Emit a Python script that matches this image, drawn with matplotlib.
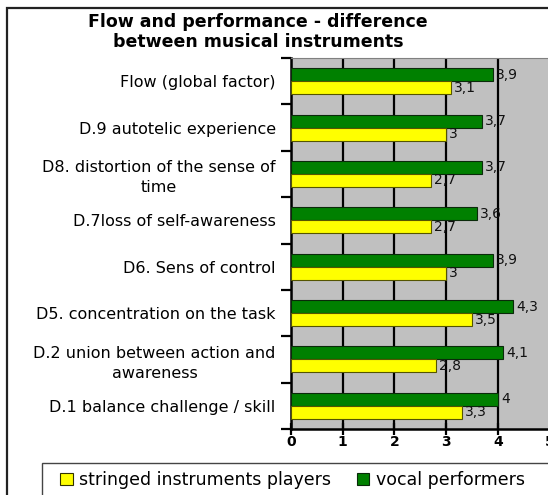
import matplotlib
matplotlib.use("Agg")
import matplotlib.pyplot as plt
from matplotlib.patches import Patch, Rectangle
import numpy as np

plt.rcParams['font.family'] = ['DejaVu Sans']

categories = [
    "Flow (global factor)",
    "D.9 autotelic experience",
    "D8. distortion of the sense of\ntime",
    "D.7loss of self-awareness",
    "D6. Sens of control",
    "D5. concentration on the task",
    "D.2 union between action and\nawareness",
    "D.1 balance challenge / skill",
]
vocal = [3.9, 3.7, 3.7, 3.6, 3.9, 4.3, 4.1, 4.0]
stringed = [3.1, 3.0, 2.7, 2.7, 3.0, 3.5, 2.8, 3.3]
series_names = ["stringed instruments players", "vocal performers"]
x_ticks = [0, 1, 2, 3, 4, 5]
title = "Flow and performance - difference\nbetween musical instruments"

W, H = 548, 495
fig = plt.figure(figsize=(W / 100, H / 100), dpi=100)

# outer frame
fig.patches.append(Rectangle((7 / W, -0.1), 1.2, 1 - 8 / H + 0.1, transform=fig.transFigure,
                             fill=False, edgecolor='#222222', linewidth=1.6, zorder=0))
# legend frame
fig.patches.append(Rectangle((42 / W, -0.1), 1.2, 0.1 + 1 - 463 / H, transform=fig.transFigure,
                             fill=False, edgecolor='#444444', linewidth=1.0, zorder=0))

ax = fig.add_axes([291 / W, 1 - 429 / H, (549.5 - 291) / W, (429 - 58) / H])
ax.set_facecolor('#C0C0C0')

n = len(categories)
centers = np.arange(n)[::-1] + 0.5
bh = 0.28
ax.barh(centers + bh / 2, vocal, height=bh, color='#008000', edgecolor='#0a2a0a', linewidth=0.8, zorder=3)
ax.barh(centers - bh / 2, stringed, height=bh, color='#FFFF00', edgecolor='#555500', linewidth=0.8, zorder=3)

def fmt(v):
    return ("%g" % v).replace('.', ',')

for c, v in zip(centers, vocal):
    ax.text(v + 0.06, c + bh / 2, fmt(v), va='center', ha='left', fontsize=10, color='#111111', zorder=4)
for c, v in zip(centers, stringed):
    ax.text(v + 0.06, c - bh / 2, fmt(v), va='center', ha='left', fontsize=10, color='#111111', zorder=4)

ax.set_xlim(0, 5)
ax.set_ylim(0, n)
ax.set_xticks(x_ticks)
ax.set_xticklabels([str(t) for t in x_ticks], fontweight='bold', fontsize=10)
ax.xaxis.grid(True, color='black', linewidth=1.6, zorder=1)
ax.set_axisbelow(True)

ax.set_yticks(np.arange(n + 1))
ax.set_yticklabels([])
ax.set_yticks(centers, minor=True)
ax.set_yticklabels(categories, minor=True, fontsize=11.5, ha='right', multialignment='center')
for lab in ax.get_yticklabels(minor=True):
    lab.set_linespacing(1.4)
ax.tick_params(axis='y', which='major', direction='out', length=7, width=1.6)
ax.tick_params(axis='y', which='minor', length=0, pad=11)
ax.tick_params(axis='x', direction='inout', length=8, width=1.6, pad=0)

for s in ['left', 'bottom']:
    ax.spines[s].set_linewidth(1.8)
    ax.spines[s].set_color('black')
ax.spines['top'].set_color('#808080')
ax.spines['right'].set_color('#808080')

fig.text(258 / W, 1 - 32 / H, title, ha='center', va='center', fontweight='bold', fontsize=12.5,
         linespacing=1.1)

handles = [Patch(facecolor='#FFFF00', edgecolor='#333300', linewidth=0.8),
           Patch(facecolor='#008000', edgecolor='#0a2a0a', linewidth=0.8)]
leg = fig.legend(handles, series_names, loc='center left', bbox_to_anchor=(60 / W, 1 - 480 / H),
                 ncol=2, frameon=False, fontsize=12.5, handlelength=0.72, handleheight=0.72,
                 handletextpad=0.4, columnspacing=1.45, borderpad=0,
                 borderaxespad=0)

fig.savefig('out.png', dpi=100)
